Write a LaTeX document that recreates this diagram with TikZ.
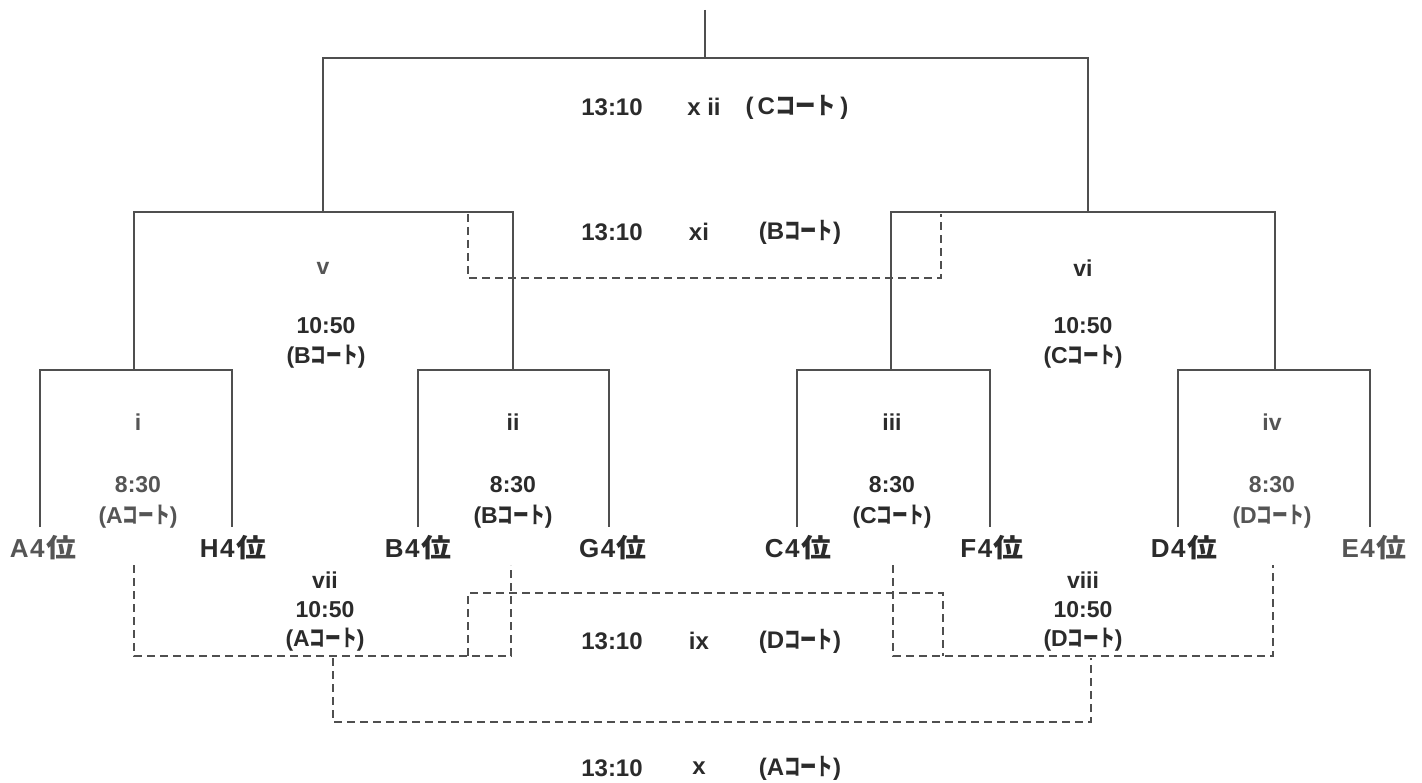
\documentclass[tikz,border=0pt]{standalone}
\usepackage{fontspec}
\usepackage{graphicx}
\setmainfont{Liberation Sans}
\newfontfamily\jpn{Noto Sans CJK JP}[FakeStretch=0.68]
\newfontfamily\jpw{Noto Sans CJK JP}[FakeStretch=0.85]
\newfontfamily\jpt{Noto Sans CJK JP}
\newcommand{\ct}[1]{(#1{\jpn コート})}
\newcommand{\ctw}[1]{(\,#1{\jpw コート}\,)}
\newcommand{\rk}[2]{#1\hspace{1.5pt}#2\hspace{1.5pt}\scalebox{1.15}[1]{\jpt 位}}
\definecolor{ink}{HTML}{2b2b2b}
\definecolor{soft}{HTML}{555555}
\definecolor{linec}{HTML}{4f4f4f}
\begin{document}
\begin{tikzpicture}[x=1pt,y=-1pt,
  bline/.style={draw=linec, line width=1.5pt},
  dline/.style={bline, dash pattern=on 8pt off 5pt},
  lbl/.style={text=ink, font=\bfseries\fontsize{23}{25}\selectfont, inner sep=0pt, align=center},
  slbl/.style={lbl, text=soft},
  flbl/.style={lbl, font=\bfseries\fontsize{24}{26}\selectfont},
  team/.style={lbl, font=\bfseries\fontsize{26}{28}\selectfont}]
\useasboundingbox[fill=white] (0,0) rectangle (1422,783);
% ---- coordinates of the bracket
\coordinate (r0) at (705,10);  \coordinate (r1) at (705,58);
\coordinate (a1) at (323,212); \coordinate (a2) at (323,58); \coordinate (a3) at (1088,58); \coordinate (a4) at (1088,212);
\coordinate (b1) at (134,370); \coordinate (b2) at (134,212); \coordinate (b3) at (513,212); \coordinate (b4) at (513,370);
\coordinate (c1) at (891,370); \coordinate (c2) at (891,212); \coordinate (c3) at (1275,212); \coordinate (c4) at (1275,370);
\coordinate (d1) at (40,527);  \coordinate (d2) at (40,370);  \coordinate (d3) at (232,370); \coordinate (d4) at (232,527);
\coordinate (e1) at (418,527); \coordinate (e2) at (418,370); \coordinate (e3) at (609,370); \coordinate (e4) at (609,527);
\coordinate (f1) at (797,527); \coordinate (f2) at (797,370); \coordinate (f3) at (990,370); \coordinate (f4) at (990,527);
\coordinate (g1) at (1178,527);\coordinate (g2) at (1178,370);\coordinate (g3) at (1370,370);\coordinate (g4) at (1370,527);
% dashed
\coordinate (h1) at (468,214); \coordinate (h2) at (468,278); \coordinate (h3) at (941,278); \coordinate (h4) at (941,214);
\coordinate (k1) at (134,565); \coordinate (k2) at (134,656); \coordinate (k3) at (511,656); \coordinate (k4) at (511,565);
\coordinate (m1) at (893,565); \coordinate (m2) at (893,656); \coordinate (m3) at (1273,656); \coordinate (m4) at (1273,565);
\coordinate (n1) at (468,656); \coordinate (n2) at (468,593); \coordinate (n3) at (943,593); \coordinate (n4) at (943,656);
\coordinate (p1) at (333,658); \coordinate (p2) at (333,722); \coordinate (p3) at (1091,722); \coordinate (p4) at (1091,658);
% ---- solid lines
\draw[bline] (r0) -- (r1);
\draw[bline] (a1) -- (a2) -- (a3) -- (a4);
\draw[bline] (b1) -- (b2) -- (b3) -- (b4);
\draw[bline] (c1) -- (c2) -- (c3) -- (c4);
\draw[bline] (d1) -- (d2) -- (d3) -- (d4);
\draw[bline] (e1) -- (e2) -- (e3) -- (e4);
\draw[bline] (f1) -- (f2) -- (f3) -- (f4);
\draw[bline] (g1) -- (g2) -- (g3) -- (g4);
% ---- dashed lines
\draw[dline] (h1) -- (h2) -- (h3) -- (h4);
\draw[dline] (k1) -- (k2) -- (k3) -- (k4);
\draw[dline] (m1) -- (m2) -- (m3) -- (m4);
\draw[dline] (n1) -- (n2) -- (n3) -- (n4);
\draw[dline] (p1) -- (p2) -- (p3) -- (p4);
% ---- team labels
\node[team, text=soft] (tA) at (43,548) {\rk{A}{4}};
\node[team] (tH) at (233,548) {\rk{H}{4}};
\node[team] (tB) at (418,548) {\rk{B}{4}};
\node[team] (tG) at (613,548) {\rk{G}{4}};
\node[team] (tC) at (798,548) {\rk{C}{4}};
\node[team] (tF) at (992,548) {\rk{F}{4}};
\node[team] (tD) at (1184,548) {\rk{D}{4}};
\node[team, text=soft] (tE) at (1374,548) {\rk{E}{4}};
% ---- first round
\node[slbl] (g1n) at (138,422) {i};
\node[slbl] (g1t) at (138,485) {8:30};
\node[slbl] (g1c) at (138,517) {\ct{A}};
\node[lbl] (g2n) at (513,422) {ii};
\node[lbl] (g2t) at (513,485) {8:30};
\node[lbl] (g2c) at (513,517) {\ct{B}};
\node[lbl] (g3n) at (892,422) {iii};
\node[lbl] (g3t) at (892,485) {8:30};
\node[lbl] (g3c) at (892,517) {\ct{C}};
\node[slbl] (g4n) at (1272,422) {iv};
\node[slbl] (g4t) at (1272,485) {8:30};
\node[slbl] (g4c) at (1272,517) {\ct{D}};
% ---- second round
\node[slbl] (g5n) at (323,268) {v};
\node[lbl] (g5t) at (326,326) {10:50};
\node[lbl] (g5c) at (326,357) {\ct{B}};
\node[lbl] (g6n) at (1083,268) {vi};
\node[lbl] (g6t) at (1083,326) {10:50};
\node[lbl] (g6c) at (1083,357) {\ct{C}};
\node[lbl] (g7n) at (325,580) {vii};
\node[lbl] (g7t) at (325,610) {10:50};
\node[lbl] (g7c) at (325,640) {\ct{A}};
\node[lbl] (g8n) at (1083,580) {viii};
\node[lbl] (g8t) at (1083,610) {10:50};
\node[lbl] (g8c) at (1083,640) {\ct{D}};
% ---- final games
\node[flbl] (f12t) at (612,107) {13:10};
\node[flbl] (f12n) at (704,107) {x ii};
\node[flbl] (f12c) at (797,107) {\ctw{C}};
\node[flbl] (f11t) at (612,232) {13:10};
\node[flbl] (f11n) at (699,232) {xi};
\node[flbl] (f11c) at (800,232) {\ct{B}};
\node[flbl] (f9t) at (612,641) {13:10};
\node[flbl] (f9n) at (699,641) {ix};
\node[flbl] (f9c) at (800,641) {\ct{D}};
\node[flbl] (f10t) at (612,768) {13:10};
\node[flbl] (f10n) at (699,768) {x};
\node[flbl] (f10c) at (800,768) {\ct{A}};
\end{tikzpicture}
\end{document}
